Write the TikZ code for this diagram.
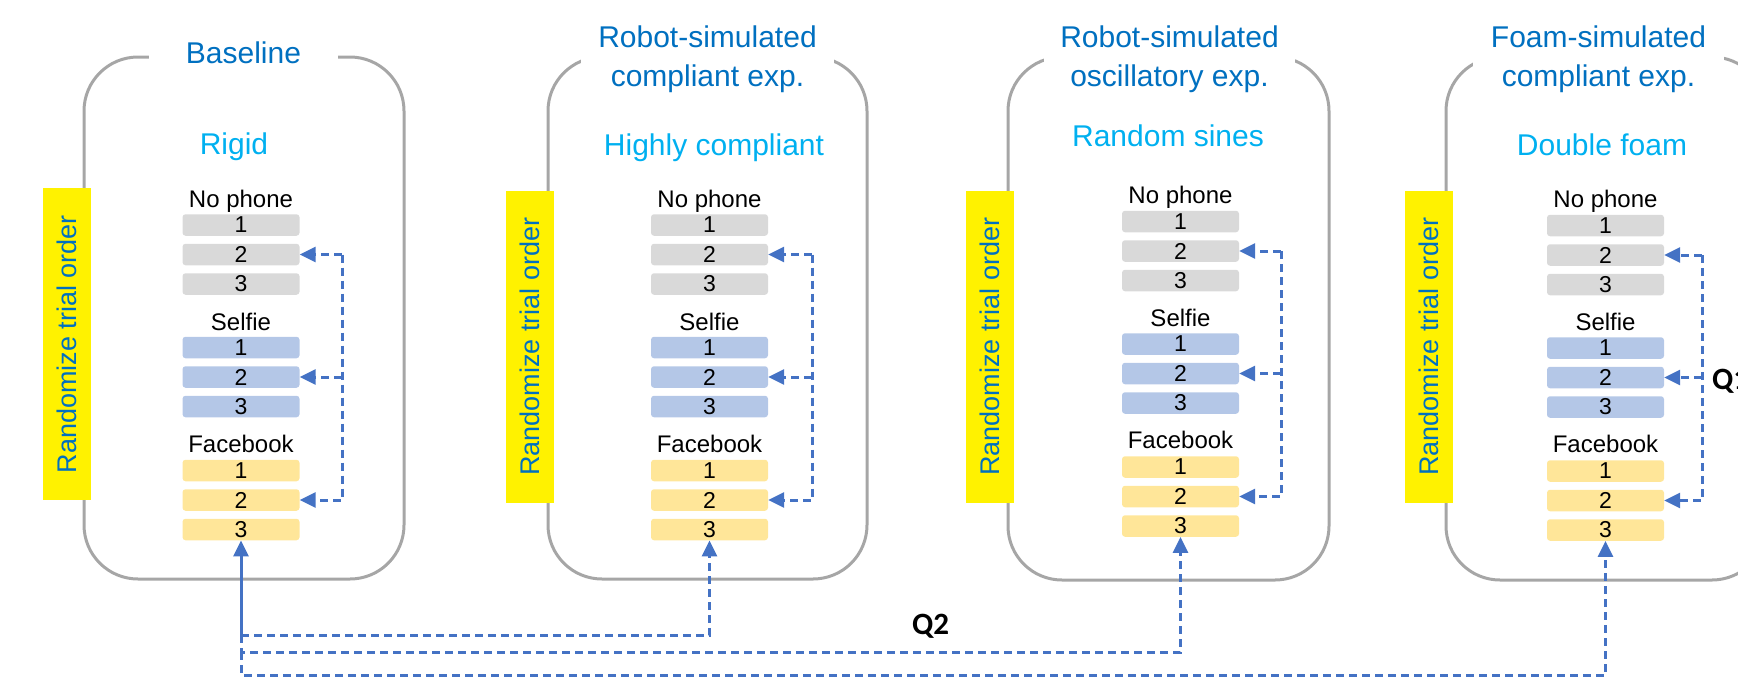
\documentclass[tikz,border=0pt]{standalone}
\usepackage{fontspec}
\setmainfont{Liberation Sans}
\newfontfamily\qfont{Carlito}
\usetikzlibrary{arrows.meta}

\definecolor{titleblue}{HTML}{0070C0}
\definecolor{subblue}{HTML}{00B0F0}
\definecolor{framegray}{HTML}{A6A6A6}
\definecolor{barGray}{HTML}{D9D9D9}
\definecolor{barBlue}{HTML}{B4C7E7}
\definecolor{barGold}{HTML}{FFE699}
\definecolor{linkblue}{HTML}{4472C4}

\tikzset{
  frame/.style={draw=framegray, line width=3pt, rounded corners=54pt},
  headtext/.style={fill=white, text=titleblue, align=center, inner sep=0pt,
    font=\fontsize{30}{39}\selectfont},
  condtext/.style={text=subblue, anchor=base, inner sep=0pt,
    font=\fontsize{30}{36}\selectfont},
  grouplabel/.style={anchor=base, inner sep=0pt, font=\fontsize{24}{24}\selectfont},
  trial/.style={minimum width=117pt, minimum height=21.5pt, inner sep=0pt,
    rounded corners=3pt, font=\fontsize{23}{23}\selectfont},
  randbox/.style={fill=yellow, rotate=90, minimum width=312pt, minimum height=48pt,
    inner sep=0pt, text=titleblue, font=\fontsize{27}{27}\selectfont},
  link/.style={draw=linkblue, line width=3pt, dash pattern=on 8pt off 5pt},
  linktip/.style={-{Triangle[length=16pt,width=15pt]}},
  qlabel/.style={inner sep=0pt, font=\qfont\bfseries\fontsize{31}{31}\selectfont},
}

% One column of trials: prefix, centre x, vertical offset, x of the return line
\newcommand{\trialstack}[4]{%
  \node[grouplabel] (#1-nl) at (#2,{207+(#3)}) {No phone};
  \node[trial, fill=barGray] (#1-n1) at (#2,{225+(#3)}) {1};
  \node[trial, fill=barGray] (#1-n2) at (#2,{254.5+(#3)}) {2};
  \node[trial, fill=barGray] (#1-n3) at (#2,{284+(#3)}) {3};
  \node[grouplabel] (#1-sl) at (#2,{330+(#3)}) {Selfie};
  \node[trial, fill=barBlue] (#1-s1) at (#2,{347.5+(#3)}) {1};
  \node[trial, fill=barBlue] (#1-s2) at (#2,{377+(#3)}) {2};
  \node[trial, fill=barBlue] (#1-s3) at (#2,{406.5+(#3)}) {3};
  \node[grouplabel] (#1-fl) at (#2,{452+(#3)}) {Facebook};
  \node[trial, fill=barGold] (#1-f1) at (#2,{470.5+(#3)}) {1};
  \node[trial, fill=barGold] (#1-f2) at (#2,{500+(#3)}) {2};
  \node[trial, fill=barGold] (#1-f3) at (#2,{529.5+(#3)}) {3};
  \coordinate (#1-ret) at (#4,{254.5+(#3)});
  \draw[link, linktip] (#1-ret) -- (#1-n2.east);
  \draw[link, linktip] (#1-ret |- #1-s2.east) -- (#1-s2.east);
  \draw[link, linktip] (#1-ret) |- (#1-f2.east);
}

\begin{document}
\begin{tikzpicture}[x=1pt,y=-1pt]
\useasboundingbox (0,0) rectangle (1738,681);
\clip (0,0) rectangle (1738,681);

% experiment frames
\draw[frame] (84,57) rectangle (404,579);
\draw[frame] (548,57) rectangle (867,579);
\draw[frame] (1008,57) rectangle (1329,580);
\draw[frame] (1446,57) rectangle (1766,580);

% randomisation labels
\node[randbox] (A-rand) at (67,344) {Randomize trial order};
\node[randbox] (B-rand) at (529.5,346.5) {Randomize trial order};
\node[randbox] (C-rand) at (990,346.5) {Randomize trial order};
\node[randbox] (D-rand) at (1429,346.5) {Randomize trial order};

% experiment headings (white fill opens the frame's top edge)
\node[headtext, minimum width=189pt, minimum height=34pt] (A-head) at (243.5,53) {Baseline};
\node[headtext, minimum width=253pt, minimum height=80pt] (B-head) at (707.5,59.7) {Robot-simulated\\compliant exp.};
\node[headtext, minimum width=251pt, minimum height=80pt] (C-head) at (1169.5,59.7) {Robot-simulated\\oscillatory exp.};
\node[headtext, minimum width=251pt, minimum height=80pt] (D-head) at (1598.5,59.7) {Foam-simulated\\compliant exp.};

% conditions
\node[condtext] (A-cond) at (234,154) {Rigid};
\node[condtext] (B-cond) at (714,155) {Highly compliant};
\node[condtext] (C-cond) at (1168,146) {Random sines};
\node[condtext] (D-cond) at (1602,155) {Double foam};

% trial columns
\trialstack{A}{241}{0}{342}
\trialstack{B}{709.5}{0}{812}
\trialstack{C}{1180.5}{-3.5}{1281}
\trialstack{D}{1605.5}{0.5}{1702}

% questions
\node[qlabel, anchor=west] (q1) at (1712,381) {Q1};
\node[qlabel] (q2) at (930.5,626) {Q2};

% links between experiments
\coordinate (q2a) at (A-f3.south |- 0,635);
\coordinate (q2b) at (A-f3.south |- 0,652);
\coordinate (q2c) at (A-f3.south |- 0,675);
\draw[link, solid, linktip] (q2a) -- (A-f3.south);
\draw[link, linktip] (q2a) -| (B-f3.south);
\draw[link, linktip] (q2a) -- (q2b) -| (C-f3.south);
\draw[link, linktip] (q2b) -- (q2c) -| (D-f3.south);
\end{tikzpicture}
\end{document}
